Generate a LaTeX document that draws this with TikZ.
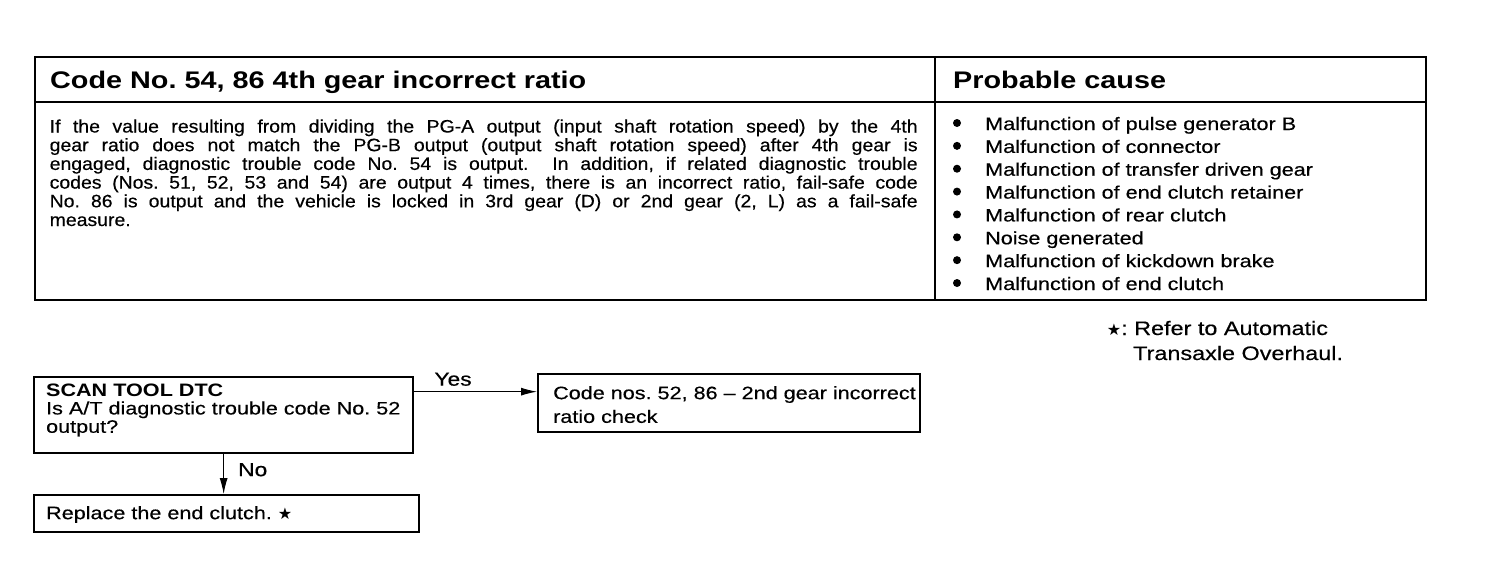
\documentclass[tikz,border=0pt]{standalone}
\usepackage{fontspec}
\setmainfont{Liberation Sans}[FakeStretch=1.2, UprightFeatures={FakeBold=0.4}]
\newfontfamily\bodyfont{Liberation Sans}[FakeStretch=1.08, FakeBold=0.4]
\newfontfamily\symfont{DejaVu Sans}
\usetikzlibrary{arrows.meta,calc}
\newcommand\fsz[2]{\fontsize{#1}{#2}\selectfont}
\newcommand\bigst{{\symfont\fontsize{16}{16}\selectfont ★}}
\newcommand\boxtext[5]{\parbox[c][#2][t]{#1}{\leftskip=#3\relax\rule{0pt}{#4}#5}}
\begin{document}
\frenchspacing
\begin{tikzpicture}[x=1pt,y=-1pt,
  tline/.style={line width=2.6pt},
  thinline/.style={line width=1.3pt},
  fbox/.style={draw, line width=2.3pt, inner sep=0pt, anchor=north west},
  conn/.style={line width=1pt, -{Latex[length=16pt,width=8pt]}},
  txt/.style={anchor=base west, inner sep=0pt},
  head/.style={txt, font=\bfseries\fsz{24}{24}},
  body/.style={txt, font=\bodyfont\fsz{18}{18}},
  item/.style={txt, font=\fsz{18}{18}},
  lbl/.style={inner sep=0pt, font=\fsz{19}{19}},
  legend/.style={txt, font=\fsz{19.5}{20}}]
\fill[white] (0,0) rectangle (1504,578);
\useasboundingbox (0,0) rectangle (1504,578);
% table
\draw[tline] (35,57) rectangle (1426,300);
\draw[thinline] (35,102) -- (1426,102);
\draw[thinline] (935,57) -- (935,300);
\node[head] (h1) at (50,88.3) {Code No. 54, 86 4th gear incorrect ratio};
\node[head] (h2) at (953,88.3) {Probable cause};
\node[body] (l1) at (49.5,132.5) {\makebox[868pt][s]{If the value resulting from dividing the PG-A output (input shaft rotation speed) by the 4th}};
\node[body] (l2) at (49.5,151.2) {\makebox[868pt][s]{gear ratio does not match the PG-B output (output shaft rotation speed) after 4th gear is}};
\node[body] (l3) at (49.5,169.9) {\makebox[868pt][s]{engaged, diagnostic trouble code No. 54 is output.\ \ In addition, if related diagnostic trouble}};
\node[body] (l4) at (49.5,188.6) {\makebox[868pt][s]{codes (Nos. 51, 52, 53 and 54) are output 4 times, there is an incorrect ratio, fail-safe code}};
\node[body] (l5) at (49.5,207.3) {\makebox[868pt][s]{No. 86 is output and the vehicle is locked in 3rd gear (D) or 2nd gear (2, L) as a fail-safe}};
\node[body] (l6) at (49.5,226) {measure.};
\foreach \t [count=\i] in {Malfunction of pulse generator B, Malfunction of connector, Malfunction of transfer driven gear, Malfunction of end clutch retainer, Malfunction of rear clutch, Noise generated, Malfunction of kickdown brake, Malfunction of end clutch}
  {\node[item] (c\i) at (985,{130+22.86*(\i-1)}) {\t};
   \fill (957,{123+22.86*(\i-1)}) circle[radius=4pt];}
% flowchart
\node[fbox, font=\fsz{18}{18.3}] (b1) at (33,376)
  {\boxtext{379pt}{76pt}{12pt}{19pt}{\textbf{SCAN TOOL DTC}\\Is A/T diagnostic trouble code No. 52\\output?}};
\node[fbox, font=\fsz{18}{18}] (b2) at (33,494)
  {\boxtext{385pt}{37pt}{12pt}{24pt}{Replace the end clutch. \bigst}};
\node[fbox, font=\fsz{18}{23.7}] (b3) at (537,373)
  {\boxtext{382pt}{58pt}{15pt}{25pt}{Code nos. 52, 86 – 2nd gear incorrect\\ratio check}};
\coordinate (ys) at ($(b1.north east)!0.2!(b1.south east)$);
\draw[conn] (ys) -- (ys -| b3.west)
  node[lbl, pos=0.16, anchor=base west, yshift=6pt] (yes) {Yes};
\draw[conn] (b1.south) -- (b1.south |- b2.north)
  node[lbl, pos=0.55, anchor=base west, xshift=14pt] (no) {No};
% legend
\node[legend] (lg1) at (1134,335) {\llap{\bigst: }Refer to Automatic};
\node[legend] (lg2) at (1133,360) {Transaxle Overhaul.};
\end{tikzpicture}
\end{document}
